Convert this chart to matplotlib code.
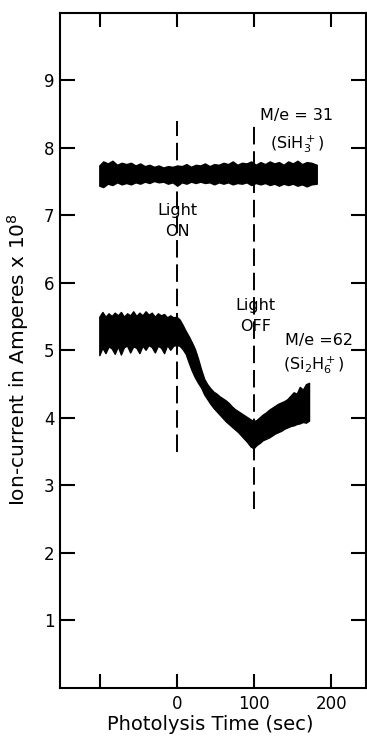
import matplotlib
matplotlib.use("Agg")
import matplotlib.pyplot as plt

# M/e = 31 (SiH3+) trace, read as upper/lower envelope of the noisy band
x31 = [-101, -96, -90, -84, -78, -72, -66, -60,
       -54, -48, -42, -36, -30, -24, -18, -12,
       -6, 0, 6, 12, 18, 24, 30, 36,
       42, 48, 54, 60, 66, 72, 78, 84,
       90, 96, 102, 108, 114, 120, 126, 132,
       138, 144, 150, 156, 162, 168, 174, 181]
up31 = [7.74, 7.80, 7.77, 7.81, 7.75, 7.78, 7.76, 7.78,
        7.74, 7.77, 7.73, 7.75, 7.72, 7.74, 7.71, 7.73,
        7.72, 7.74, 7.73, 7.76, 7.72, 7.75, 7.74, 7.77,
        7.73, 7.76, 7.75, 7.78, 7.76, 7.80, 7.75, 7.78,
        7.77, 7.80, 7.75, 7.79, 7.76, 7.80, 7.77, 7.79,
        7.75, 7.80, 7.77, 7.81, 7.76, 7.79, 7.78, 7.75]
lo31 = [7.44, 7.42, 7.47, 7.45, 7.49, 7.46, 7.48, 7.46,
        7.49, 7.47, 7.50, 7.48, 7.51, 7.49, 7.50, 7.47,
        7.49, 7.44, 7.49, 7.47, 7.50, 7.48, 7.50, 7.48,
        7.49, 7.46, 7.49, 7.47, 7.49, 7.46, 7.48, 7.47,
        7.49, 7.45, 7.48, 7.46, 7.48, 7.45, 7.47, 7.44,
        7.47, 7.45, 7.47, 7.44, 7.46, 7.43, 7.46, 7.47]

# M/e = 62 (Si2H6+) trace
x62 = [-101, -97, -93, -89, -85, -81, -77, -73, -69, -65,
       -61, -57, -53, -49, -45, -41, -37, -33, -29, -25,
       -21, -17, -13, -9, -5, -1, 3, 7, 11, 15,
       19, 23, 27, 31, 35, 39, 43, 47, 51, 55,
       59, 63, 67, 71, 75, 79, 83, 87, 91, 95,
       99, 103, 107, 111, 115, 119, 123, 127, 131, 135,
       139, 143, 147, 151, 155, 159, 163, 167, 171]
up62 = [5.50, 5.57, 5.50, 5.55, 5.51, 5.56, 5.52, 5.57, 5.50, 5.55,
        5.52, 5.58, 5.51, 5.56, 5.52, 5.58, 5.53, 5.56, 5.50, 5.55,
        5.52, 5.54, 5.49, 5.52, 5.49, 5.50, 5.46, 5.38, 5.29, 5.21,
        5.12, 5.02, 4.88, 4.72, 4.58, 4.50, 4.44, 4.39, 4.36, 4.32,
        4.29, 4.26, 4.22, 4.17, 4.13, 4.10, 4.07, 4.04, 4.01, 3.98,
        3.95, 3.97, 4.01, 4.05, 4.08, 4.12, 4.15, 4.18, 4.21, 4.23,
        4.25, 4.28, 4.33, 4.38, 4.36, 4.46, 4.42, 4.50, 4.52]
lo62 = [4.93, 5.04, 4.96, 5.06, 5.03, 4.95, 5.06, 4.94, 5.05, 5.07,
        4.97, 5.06, 5.04, 4.96, 5.07, 5.01, 5.08, 5.05, 4.97, 5.07,
        5.04, 4.96, 5.08, 5.01, 5.07, 5.08, 5.07, 5.02, 4.95, 4.82,
        4.70, 4.60, 4.52, 4.45, 4.35, 4.28, 4.21, 4.15, 4.10, 4.05,
        4.00, 3.95, 3.91, 3.87, 3.83, 3.79, 3.74, 3.69, 3.64, 3.58,
        3.55, 3.60, 3.63, 3.67, 3.69, 3.71, 3.74, 3.77, 3.79, 3.81,
        3.84, 3.86, 3.88, 3.89, 3.91, 3.92, 3.94, 3.93, 3.96]

# light on / off markers
light_x = [0, 100]
light_ymin = [3.5, 2.65]
light_ymax = [8.4, 8.35]

xticks = [-100, 0, 100, 200]
xticklabels = ["", "0", "100", "200"]
yticks = [1, 2, 3, 4, 5, 6, 7, 8, 9]

fig = plt.figure(figsize=(3.67, 7.37), dpi=100)
ax = fig.add_axes([0.1635, 0.0665, 0.834, 0.916])

ax.fill_between(x31, lo31, up31, color="black", lw=1.0)
ax.fill_between(x62, lo62, up62, color="black", lw=1.0)

for lx, y0, y1 in zip(light_x, light_ymin, light_ymax):
    ax.plot([lx, lx], [y0, y1], color="black", lw=1.4, dashes=(9, 3.5))

fs = 11.5
ax.text(155, 8.48, "M/e = 31", ha="center", va="center", fontsize=fs)
ax.text(155, 8.05, r"(SiH$_3^+$)", ha="center", va="center", fontsize=fs)
ax.text(0, 7.07, "Light", ha="center", va="center", fontsize=fs)
ax.text(0, 6.76, "ON", ha="center", va="center", fontsize=fs)
ax.text(102, 5.67, "Light", ha="center", va="center", fontsize=fs)
ax.text(102, 5.35, "OFF", ha="center", va="center", fontsize=fs)
ax.text(184, 5.15, "M/e =62", ha="center", va="center", fontsize=fs)
ax.text(178, 4.78, r"(Si$_2$H$_6^+$)", ha="center", va="center", fontsize=fs)

ax.set_xlim(-152, 245)
ax.set_ylim(0, 10)
ax.set_xticks(xticks)
ax.set_xticklabels(xticklabels)
ax.set_yticks(yticks)
ax.tick_params(axis="both", direction="in", width=1.5, labelsize=12,
               top=True, right=True)
ax.tick_params(axis="y", length=11, pad=4)
ax.tick_params(axis="x", length=10, pad=5)
for s in ax.spines.values():
    s.set_linewidth(1.5)

ax.set_ylabel("Ion-current in Amperes x 10$^8$", fontsize=14.5)
ax.yaxis.set_label_coords(-0.095, 0.487)
ax.set_xlabel("Photolysis Time (sec)", fontsize=14)
ax.xaxis.set_label_coords(0.49, -0.04)

fig.savefig("out.png", dpi=100)
